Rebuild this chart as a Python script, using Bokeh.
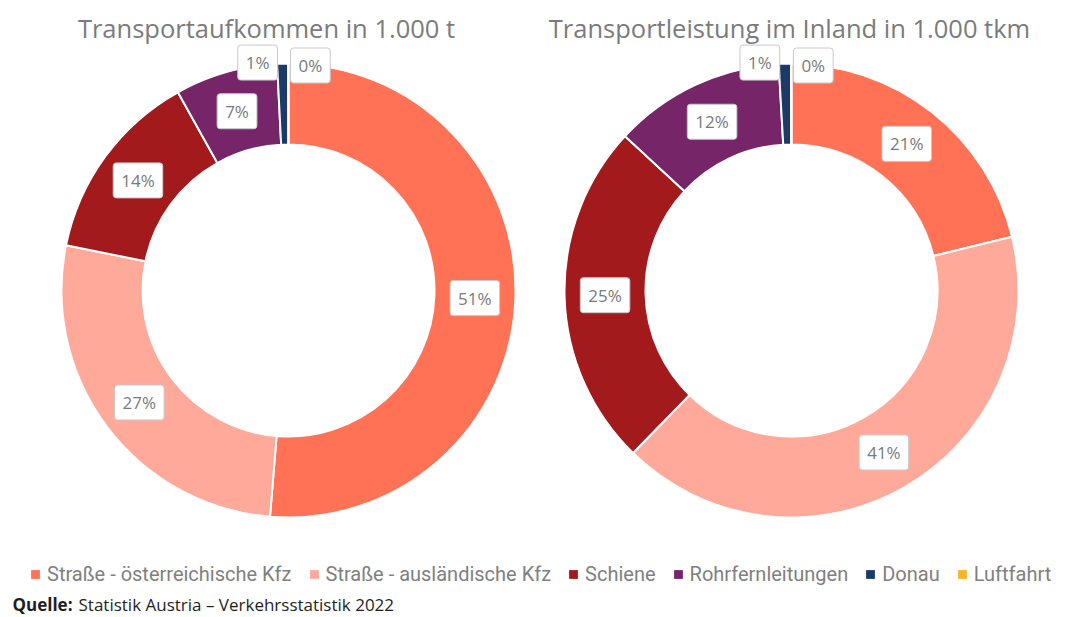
import numpy as np
from bokeh.plotting import figure
from bokeh.models import ColumnDataSource, Range1d, Legend, LegendItem
from bokeh.core.properties import value
from bokeh.embed import file_html
from bokeh.resources import INLINE

# ---------------- data ----------------
categories = ["Straße - österreichische Kfz", "Straße - ausländische Kfz", "Schiene",
              "Rohrfernleitungen", "Donau", "Luftfahrt"]
colors = ["#FF7256", "#FFA99A", "#A31A1C", "#752568", "#1B3A68", "#FBB424"]
aufkommen_pct = [51.3, 26.9, 13.7, 7.3, 0.78, 0.02]   # Transportaufkommen, share in %
leistung_pct = [21.2, 41.1, 24.6, 12.2, 0.87, 0.03]   # Transportleistung im Inland, share in %
titles = ["Transportaufkommen in 1.000 t", "Transportleistung im Inland in 1.000 tkm"]
source_bold = "Quelle:"
source_text = "Statistik Austria – Verkehrsstatistik 2022"

# ---------------- layout ----------------
W, H = 1089, 617
def Y(py):          # page pixel row -> data y (y grows upward)
    return H - py

p = figure(width=W, height=H, x_range=Range1d(0, W), y_range=Range1d(0, H),
           output_backend="svg", toolbar_location=None, min_border=0,
           x_axis_type=None, y_axis_type=None, outline_line_color=None)
p.grid.visible = False
p.background_fill_color = "white"
p.border_fill_color = "white"

R_OUT, R_IN = 227, 146
LABEL_FONT = value("Open Sans")


def donut(vals, cx, cy):
    v = np.array(vals, dtype=float)
    frac = v / v.sum()
    cum = np.concatenate([[0.0], np.cumsum(frac)])
    start = np.pi / 2 - cum[1:] * 2 * np.pi
    end = np.pi / 2 - cum[:-1] * 2 * np.pi
    src = ColumnDataSource(dict(start=start, end=end, color=colors, cat=categories))
    p.annular_wedge(x=cx, y=cy, inner_radius=R_IN, outer_radius=R_OUT,
                    start_angle="start", end_angle="end", fill_color="color",
                    line_color="white", line_width=2, source=src)
    mid = (cum[:-1] + cum[1:]) / 2 * 2 * np.pi
    rm = (R_OUT + R_IN) / 2
    small = frac < 0.02
    rr = np.where(small, R_OUT + 1, rm)
    lx = cx + rr * np.sin(mid)
    ly = cy + rr * np.cos(mid)
    # small slices at top: callouts placed beside each other above the ring
    dx = np.zeros(len(v))
    dy = np.zeros(len(v))
    idx_small = np.where(small)[0]
    for k, i in enumerate(idx_small):
        dx[i] = -25 if k == 0 else 22
        dy[i] = 0 if k == 0 else -3
    lx = lx + dx
    ly = ly + dy
    labels = [f"{round(f * 100)}%" for f in frac]
    lsrc = ColumnDataSource(dict(x=lx, y=ly, t=labels))
    p.text(x="x", y="y", text="t", source=lsrc, text_align="center", text_baseline="middle",
           text_font=LABEL_FONT, text_font_size="17px", text_color="#7a7a7a",
           background_fill_color="white", border_line_color="#c9c9c9", border_line_width=1,
           padding=dict(x=8, y=6), border_radius=3)


donut(aufkommen_pct, 288, Y(290))
donut(leistung_pct, 791, Y(290))

# titles
p.text(x=[266, 789], y=[Y(27), Y(27)], text=titles, text_align="center", text_baseline="middle",
       text_font=value("Open Sans"), text_font_size="25.5px", text_color="#7b7b7b")

# source line
p.text(x=[12], y=[Y(604)], text=[source_bold], text_align="left", text_baseline="middle",
       text_font=value("Open Sans"), text_font_size="17px", text_font_style="bold", text_color="#1e1e1e")
p.text(x=[78], y=[Y(604)], text=[source_text], text_align="left", text_baseline="middle",
       text_font=value("Open Sans"), text_font_size="17px", text_color="#1e1e1e")

# legend (proxy markers, not drawn in the plot area)
leg_src = ColumnDataSource(dict(x=[np.nan] * 6, y=[np.nan] * 6, color=colors))
leg_r = p.scatter(x="x", y="y", marker="square", size=9, fill_color="color",
                  line_color=None, source=leg_src)
items = [LegendItem(label=c, renderers=[leg_r], index=i) for i, c in enumerate(categories)]
legend = Legend(items=items, orientation="horizontal", location=(24, 31),
                glyph_width=22, glyph_height=22, label_standoff=1, spacing=11,
                padding=0, margin=0, border_line_color=None, background_fill_alpha=0,
                label_text_font="Roboto", label_text_font_size="20px",
                label_text_color="#808080", label_height=22)
p.add_layout(legend)

open("out.html", "w").write(file_html(p, INLINE))
